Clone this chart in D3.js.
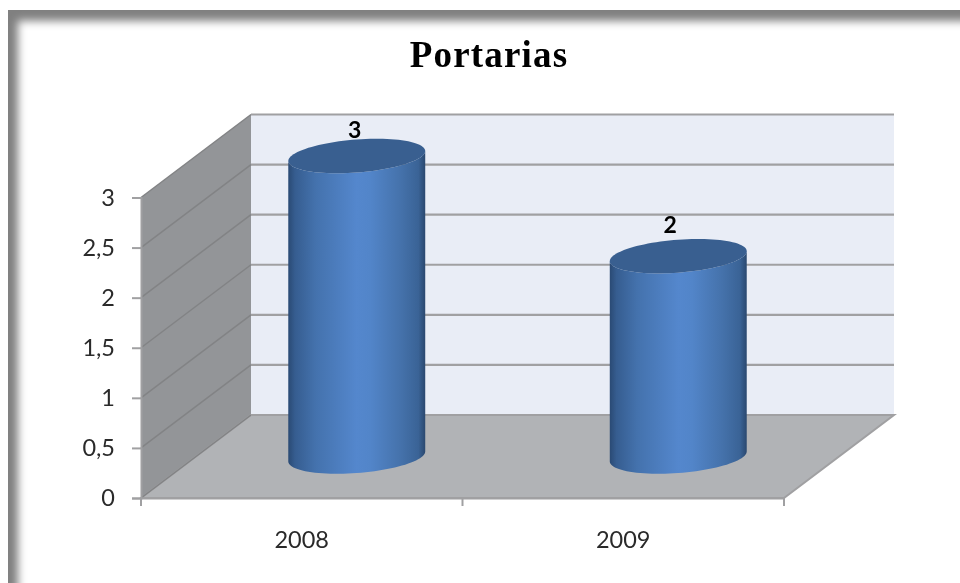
<!DOCTYPE html>
<html>
<head>
<meta charset="utf-8">
<script src="https://cdn.jsdelivr.net/npm/d3@7"></script>
<style>
  html, body { margin: 0; padding: 0; background: #fff; overflow: hidden; }
  /* the reference is a slightly soft screenshot */
  svg { display: block; filter: blur(0.45px); }
</style>
</head>
<body>
<svg width="960" height="583"></svg>
<script>
const title = "Portarias";
const years = ["2008", "2009"];
const values = [3, 2];
const valueTicks = [0, 0.5, 1, 1.5, 2, 2.5, 3];

const svg = d3.select("svg");
const defs = svg.append("defs");

// front plane of the 3d box, the back wall is the same thing shifted by depth
const depthX = 110;
const depthY = -83;
const x = d3.scaleBand().domain(years).range([141, 784]);
const y = d3.scaleLinear().domain([0, 3]).range([498, 197.5]);
const decimalComma = d3.formatLocale({ decimal: ",", thousands: ".", grouping: [3], currency: ["", ""] }).format("~g");

const x0 = x.range()[0];
const x1 = x.range()[1];
const labelFont = "Lato, 'Open Sans', sans-serif";
const lineColor = "#a0a0a2";
const sideLineColor = "#828385";

// grey picture frame, only the top and left are visible
defs.append("filter").attr("id", "soft")
  .attr("x", "-5%").attr("y", "-5%").attr("width", "110%").attr("height", "110%")
  .append("feGaussianBlur").attr("stdDeviation", 4);
defs.append("clipPath").attr("id", "frameClip")
  .append("rect").attr("x", 8).attr("y", 10).attr("width", 960).attr("height", 583);

const frame = svg.append("g").attr("clip-path", "url(#frameClip)");
frame.append("rect").attr("x", 8).attr("y", 10).attr("width", 960).attr("height", 583).attr("fill", "#808080");
frame.append("rect").attr("x", 18).attr("y", 21).attr("width", 1000).attr("height", 640)
  .attr("fill", "#fff").attr("filter", "url(#soft)");

svg.append("text")
  .attr("x", 489).attr("y", 67)
  .attr("text-anchor", "middle")
  .attr("font-family", "'Liberation Serif', serif")
  .attr("font-weight", "bold")
  .attr("font-size", 37)
  .attr("letter-spacing", 1.2)
  .attr("fill", "#000")
  .text(title);

// walls and floor
const plane = d3.line();
const bx0 = x0 + depthX;
const bx1 = x1 + depthX;
const yTop = y(3);
const yBase = y(0);

svg.append("rect")
  .attr("x", bx0).attr("y", yTop + depthY)
  .attr("width", bx1 - bx0).attr("height", yBase - yTop)
  .attr("fill", "#e9edf6");
svg.append("path")
  .attr("d", plane([[x0, yTop], [bx0, yTop + depthY], [bx0, yBase + depthY], [x0, yBase]]) + "Z")
  .attr("fill", "#939598");
svg.append("path")
  .attr("d", plane([[x0, yBase], [bx0, yBase + depthY], [bx1, yBase + depthY], [x1, yBase]]) + "Z")
  .attr("fill", "#b1b3b6")
  .attr("stroke", lineColor)
  .attr("stroke-width", 2);

// gridlines run along the side wall and across the back
const grid = svg.append("g");
grid.selectAll(".side")
  .data(valueTicks)
  .enter()
  .append("line")
  .attr("class", "side")
  .attr("x1", x0).attr("x2", bx0)
  .attr("y1", d => y(d)).attr("y2", d => y(d) + depthY)
  .attr("stroke", sideLineColor)
  .attr("stroke-width", 1.5);
grid.selectAll(".back")
  .data(valueTicks)
  .enter()
  .append("line")
  .attr("class", "back")
  .attr("x1", bx0).attr("x2", bx1)
  .attr("y1", d => y(d) + depthY).attr("y2", d => y(d) + depthY)
  .attr("stroke", lineColor)
  .attr("stroke-width", 2.2);

// axes
const yAxis = svg.append("g")
  .attr("transform", `translate(${x0},0)`)
  .call(d3.axisLeft(y).tickValues(valueTicks).tickFormat(decimalComma).tickSize(9).tickPadding(17));
const xAxis = svg.append("g")
  .attr("transform", `translate(0,${yBase})`)
  .call(d3.axisBottom(x).tickSize(0).tickPadding(33));
xAxis.selectAll(".tick text").attr("dy", "0.71em");
xAxis.selectAll(".edge")
  .data([x0, x0 + x.bandwidth(), x1])
  .enter()
  .append("line")
  .attr("class", "edge")
  .attr("x1", d => d).attr("x2", d => d)
  .attr("y1", 0).attr("y2", 8)
  .attr("stroke", lineColor)
  .attr("stroke-width", 2);

[yAxis, xAxis].forEach(axis => {
  axis.selectAll("path.domain, .tick line").attr("stroke", lineColor).attr("stroke-width", 2);
  axis.selectAll("text")
    .attr("font-family", labelFont)
    .attr("font-size", 23.5)
    .attr("fill", "#2a2a2a");
});

// cylinders
const gradient = defs.append("linearGradient").attr("id", "cylinder");
[
  [0, "#2a4a74"], [0.05, "#365d90"], [0.2, "#4472ad"], [0.5, "#5487cd"], [0.6, "#5285c9"],
  [0.82, "#4572ab"], [0.95, "#3a6396"], [1, "#2a486f"]
].forEach(s => gradient.append("stop").attr("offset", s[0]).attr("stop-color", s[1]));

const radius = x.bandwidth() * 0.213;
const ellipseA = 16.5;
const ellipseB = 5;
const ringAngles = d3.range(0, 2 * Math.PI + 0.01, Math.PI / 48);

// the disc is sheared a little: its right side sits higher than its left
const rim = (cx, cy, t) => [
  cx + radius * Math.cos(t),
  cy + ellipseA * Math.sin(t) - ellipseB * Math.cos(t)
];
const smooth = d3.line();

const cylinders = svg.append("g")
  .selectAll("g")
  .data(values)
  .enter()
  .append("g");

const cx = (d, i) => x(years[i]) + x.bandwidth() / 2 + depthX / 2;
const baseY = yBase + depthY / 2;
const topY = d => y(d) + depthY / 2;

cylinders.append("path")
  .attr("d", (d, i) => {
    const c = cx(d, i);
    const lower = ringAngles.filter(t => t <= Math.PI).map(t => rim(c, baseY, t));
    const upper = ringAngles.filter(t => t <= Math.PI).reverse().map(t => rim(c, topY(d), t));
    return smooth(lower.concat(upper)) + "Z";
  })
  .attr("fill", "url(#cylinder)");

cylinders.append("path")
  .attr("d", (d, i) => smooth(ringAngles.map(t => rim(cx(d, i), topY(d), t))) + "Z")
  .attr("fill", "#395f90");

// data labels are not centred on the bars in the original
const labelNudge = [[-2, -26], [-8, -31]];
cylinders.append("text")
  .attr("x", (d, i) => cx(d, i) + labelNudge[i][0])
  .attr("y", (d, i) => topY(d) + labelNudge[i][1])
  .attr("dy", "0.36em")
  .attr("text-anchor", "middle")
  .attr("font-family", labelFont)
  .attr("font-weight", "bold")
  .attr("font-size", 23)
  .attr("fill", "#000")
  .text(d => d);
</script>
</body>
</html>
